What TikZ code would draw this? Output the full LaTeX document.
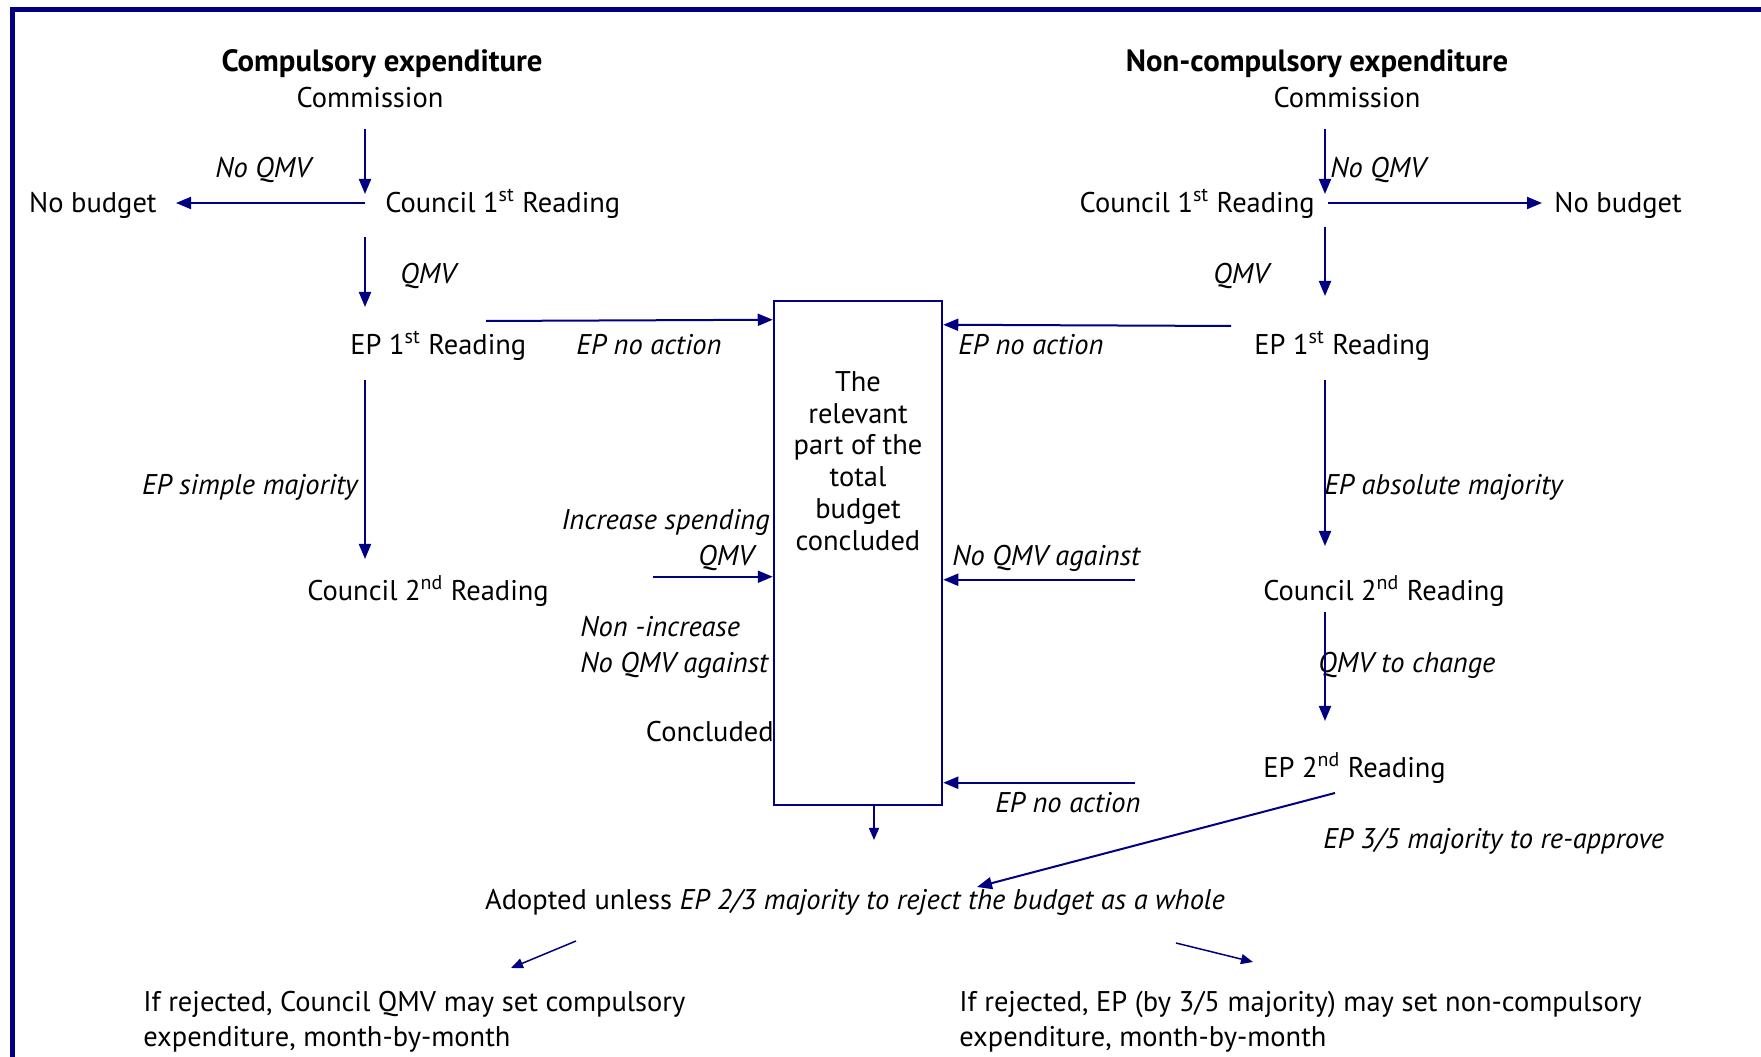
\documentclass[tikz,border=0pt]{standalone}
\usepackage{fontspec}
\setmainfont{PT Sans}
\usetikzlibrary{arrows.meta, positioning, calc}
\definecolor{navy}{RGB}{0,0,128}
\tikzset{
    txt/.style={inner sep=0pt, text height=1.1em, text depth=0.04em, font=\fontsize{16.2}{20}\selectfont},
    lbl/.style={txt, font=\fontsize{16.2}{20}\selectfont\itshape},
    headline/.style={txt, font=\fontsize{17.5}{20}\selectfont\bfseries},
    multi/.style={inner sep=0pt, align=left, font=\fontsize{16.2}{19.9}\selectfont},
    arrow/.style={draw=navy, line width=0.4mm, -{Triangle[length=3mm, width=2.4mm]}},
    thinarrow/.style={draw=navy, line width=0.3mm, -{Triangle[length=2.4mm, width=2mm]}},
    budgetbox/.style={rectangle, draw=navy, line width=0.5mm, inner sep=0pt, minimum width=33.6mm, minimum height=100.8mm},
}
\begin{document}
\begin{tikzpicture}[x=0.2mm, y=-0.2mm]
    \useasboundingbox (0,0) rectangle (1761,1057);
    % frame
    \draw[navy, line width=1mm] (12,1080) -- (12,9.5) -- (1780,9.5);

    % Compulsory expenditure
    \node[headline] (titL) at (382,62) {Compulsory expenditure};
    \node[txt] (comL) at (370,98) {Commission};
    \node[txt, anchor=west] (coL1) at (385,203) {Council 1\textsuperscript{st} Reading};
    \node[txt, anchor=east] (nbL) at (157,203) {No budget};
    \node[lbl] (nqL) at (263,168) {No QMV};
    \node[lbl] (qL) at (428,274) {QMV};
    \node[txt, anchor=west] (epL1) at (350,345) {EP 1\textsuperscript{st} Reading};
    \node[lbl] (naL) at (649,345) {EP no action};
    \node[lbl, anchor=east] (smL) at (358,485) {EP simple majority};
    \node[txt, anchor=west] (coL2) at (307,591) {Council 2\textsuperscript{nd} Reading};
    \node[lbl, anchor=east] (isL) at (770,520) {Increase spending};
    \node[lbl, anchor=east] (qL2) at (754,556) {QMV};
    \node[multi, anchor=west, font=\fontsize{16.2}{20.5}\selectfont\itshape] (niL) at (580,647) {Non -increase\\No QMV against};
    \node[txt, anchor=east] (cdL) at (774,732) {Concluded};

    % Budget part
    \node[budgetbox] (box) at (858,553) {};
    \node[multi, align=center, font=\fontsize{16.2}{18.1}\selectfont] (boxtxt) at (858,461) {The\\relevant\\part of the\\total\\budget\\concluded};

    % Non-compulsory expenditure
    \node[headline] (titR) at (1317,62) {Non-compulsory expenditure};
    \node[txt] (comR) at (1347,98) {Commission};
    \node[lbl, anchor=west] (nqR) at (1330,168) {No QMV};
    \node[txt, anchor=east] (coR1) at (1315,203) {Council 1\textsuperscript{st} Reading};
    \node[txt, anchor=west] (nbR) at (1554,203) {No budget};
    \node[lbl] (qR) at (1241,274) {QMV};
    \node[txt, anchor=west] (epR1) at (1254,345) {EP 1\textsuperscript{st} Reading};
    \node[lbl, anchor=west] (naR) at (958,345) {EP no action};
    \node[lbl, anchor=west] (amR) at (1324,485) {EP absolute majority};
    \node[lbl, anchor=west] (nqaR) at (952,556) {No QMV against};
    \node[txt, anchor=west] (coR2) at (1263,591) {Council 2\textsuperscript{nd} Reading};
    \node[lbl, anchor=west] (qcR) at (1318,663) {QMV to change};
    \node[txt, anchor=west] (epR2) at (1263,768) {EP 2\textsuperscript{nd} Reading};
    \node[lbl, anchor=west] (naR2) at (995,803) {EP no action};
    \node[lbl, anchor=west] (raR) at (1323,839) {EP 3/5 majority to re-approve};

    % Adoption
    \node[txt] (adopt) at (855,900) {Adopted unless \textit{EP 2/3 majority to reject the budget as a whole}};
    \node[multi, anchor=west] (rejL) at (143,1022) {If rejected, Council QMV may set compulsory\\expenditure, month-by-month};
    \node[multi, anchor=west] (rejR) at (959,1022) {If rejected, EP (by 3/5 majority) may set non-compulsory\\expenditure, month-by-month};

    \coordinate (colL) at (365,0);
    \coordinate (colR) at (1325,0);

    % Arrows, compulsory
    \draw[arrow] ($(comL.center -| colL)+(0,31)$) -- ($(coL1.center -| colL)+(0,-9)$);
    \draw[arrow] (coL1.center -| colL) -- ($(nbL.east)+(19,0)$);
    \draw[arrow] ($(coL1.center -| colL)+(0,34)$) -- ($(epL1.center -| colL)+(0,-38)$);
    \draw[arrow] ($(epL1.west)+(136,-24)$) -- ($(box.north west)+(0,20)$);
    \draw[arrow] ($(epL1.center -| colL)+(0,35)$) -- ($(coL2.center -| colL)+(0,-32)$);
    \draw[arrow] ($(box.north west)+(-120,277)$) -- ($(box.north west)+(0,277)$);

    % Arrows, non-compulsory
    \draw[arrow] ($(comR.center -| colR)+(0,31)$) -- ($(coR1.center -| colR)+(0,-9)$);
    \draw[arrow] ($(coR1.center -| colR)+(3,0)$) -- ($(nbR.west)+(-12,0)$);
    \draw[arrow] ($(coR1.center -| colR)+(0,24)$) -- ($(epR1.center -| colR)+(0,-49)$);
    \draw[arrow] ($(epR1.west)+(-23,-19)$) -- ($(box.north east)+(0,25)$);
    \draw[arrow] ($(epR1.center -| colR)+(0,35)$) -- ($(coR2.center -| colR)+(0,-45)$);
    \draw[arrow] ($(box.north east)+(192,280)$) -- ($(box.north east)+(0,280)$);
    \draw[arrow] ($(coR2.center -| colR)+(0,21)$) -- ($(epR2.center -| colR)+(0,-47)$);
    \draw[arrow] ($(box.north east)+(192,483)$) -- ($(box.north east)+(0,483)$);
    \draw[arrow] ($(epR2.west)+(72,25)$) -- ($(adopt.center)+(122,-13)$);

    % Arrows, adoption
    \draw[thinarrow] ($(box.south)+(16,0)$) -- ($(adopt.center)+(19,-60)$);
    \draw[thinarrow] ($(adopt.center)+(-279,41)$) -- ($(rejL.west)+(368,-54)$);
    \draw[thinarrow] ($(adopt.center)+(321,43)$) -- ($(rejR.west)+(294,-60)$);
\end{tikzpicture}
\end{document}
